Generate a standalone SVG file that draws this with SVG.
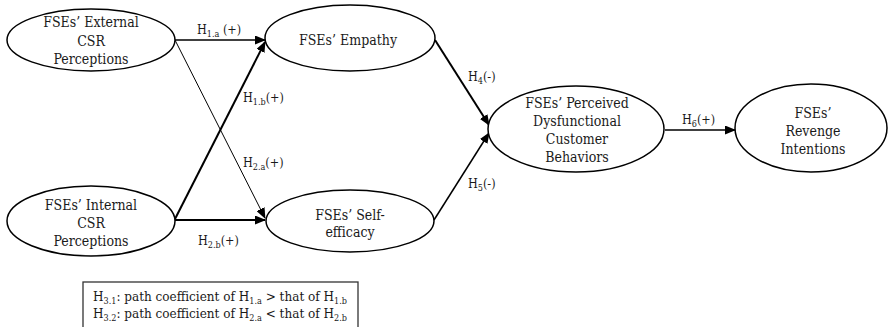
<svg xmlns="http://www.w3.org/2000/svg" width="889" height="327" viewBox="0 0 889 327">
<defs>
<marker id="ah" markerUnits="userSpaceOnUse" markerWidth="11" markerHeight="9" refX="10" refY="4.5" orient="auto">
<path d="M0,0 L11,4.5 L0,9 z" fill="#000"/>
</marker>
<style>
text{font-family:'DejaVu Serif Condensed','DejaVu Serif',serif;fill:#1a1a1a}
.node ellipse{fill:#fff;stroke:#000;stroke-width:1.5}
.node text{font-size:14px;text-anchor:middle}
.lbl{font-size:12.5px}
.leg{font-size:13.4px}
.sub{font-size:9px}
.conn path{fill:none;stroke:#000}
</style>
</defs>
<rect width="889" height="327" fill="#fff"/>
<g id="connectors" class="conn">
<path d="M175,40 L265,40" stroke-width="1.3" marker-end="url(#ah)"/>
<path d="M175,40 L265,218" stroke-width="1" marker-end="url(#ah)"/>
<path d="M175,219 L265,42" stroke-width="2" marker-end="url(#ah)"/>
<path d="M175,220 L265,220" stroke-width="2" marker-end="url(#ah)"/>
<path d="M435,40 L489,125" stroke-width="2" marker-end="url(#ah)"/>
<path d="M434,220 L489,133" stroke-width="1.5" marker-end="url(#ah)"/>
<path d="M665,130 L735,130" stroke-width="1.3" marker-end="url(#ah)"/>
</g>
<g id="labels">
<text class="lbl" x="197" y="34">H<tspan class="sub" dy="3">1.a</tspan><tspan dy="-3"> (+)</tspan></text>
<text class="lbl" x="243" y="102">H<tspan class="sub" dy="3">1.b</tspan><tspan dy="-3">(+)</tspan></text>
<text class="lbl" x="243" y="167">H<tspan class="sub" dy="3">2.a</tspan><tspan dy="-3">(+)</tspan></text>
<text class="lbl" x="198" y="245">H<tspan class="sub" dy="3">2.b</tspan><tspan dy="-3">(+)</tspan></text>
<text class="lbl" x="468" y="81">H<tspan class="sub" dy="3">4</tspan><tspan dy="-3">(-)</tspan></text>
<text class="lbl" x="468" y="188">H<tspan class="sub" dy="3">5</tspan><tspan dy="-3">(-)</tspan></text>
<text class="lbl" x="682" y="124">H<tspan class="sub" dy="3">6</tspan><tspan dy="-3">(+)</tspan></text>
</g>
<g id="external" class="node">
<ellipse cx="91" cy="40" rx="84" ry="31"/>
<text x="91" y="27">FSEs’ External</text>
<text x="91" y="46">CSR</text>
<text x="91" y="64">Perceptions</text>
</g>
<g id="internal" class="node">
<ellipse cx="91" cy="221" rx="84" ry="35"/>
<text x="91" y="210">FSEs’ Internal</text>
<text x="91" y="228">CSR</text>
<text x="91" y="246">Perceptions</text>
</g>
<g id="empathy" class="node">
<ellipse cx="350" cy="38" rx="85" ry="33"/>
<text x="348" y="45">FSEs’ Empathy</text>
</g>
<g id="selfefficacy" class="node">
<ellipse cx="350" cy="221" rx="84" ry="31"/>
<text x="350" y="220">FSEs’ Self-</text>
<text x="350" y="237">efficacy</text>
</g>
<g id="perceived" class="node">
<ellipse cx="576" cy="129" rx="88" ry="43"/>
<text x="577" y="108">FSEs’ Perceived</text>
<text x="577" y="126">Dysfunctional</text>
<text x="577" y="144">Customer</text>
<text x="577" y="162">Behaviors</text>
</g>
<g id="revenge" class="node">
<ellipse cx="811" cy="128" rx="76" ry="44"/>
<text x="813" y="118">FSEs’</text>
<text x="813" y="136">Revenge</text>
<text x="813" y="154">Intentions</text>
</g>
<g id="legend">
<rect x="83" y="282" width="275" height="50" fill="#fff" stroke="#333" stroke-width="1.3"/>
<text class="leg" x="93" y="301">H<tspan class="sub" dy="3">3.1</tspan><tspan dy="-3">:  path coefficient of H</tspan><tspan class="sub" dy="3">1.a</tspan><tspan dy="-3">  &gt; that of H</tspan><tspan class="sub" dy="3">1.b</tspan></text>
<text class="leg" x="93" y="318">H<tspan class="sub" dy="3">3.2</tspan><tspan dy="-3">:  path coefficient of H</tspan><tspan class="sub" dy="3">2.a</tspan><tspan dy="-3">  &lt; that of H</tspan><tspan class="sub" dy="3">2.b</tspan></text>
</g>
</svg>
